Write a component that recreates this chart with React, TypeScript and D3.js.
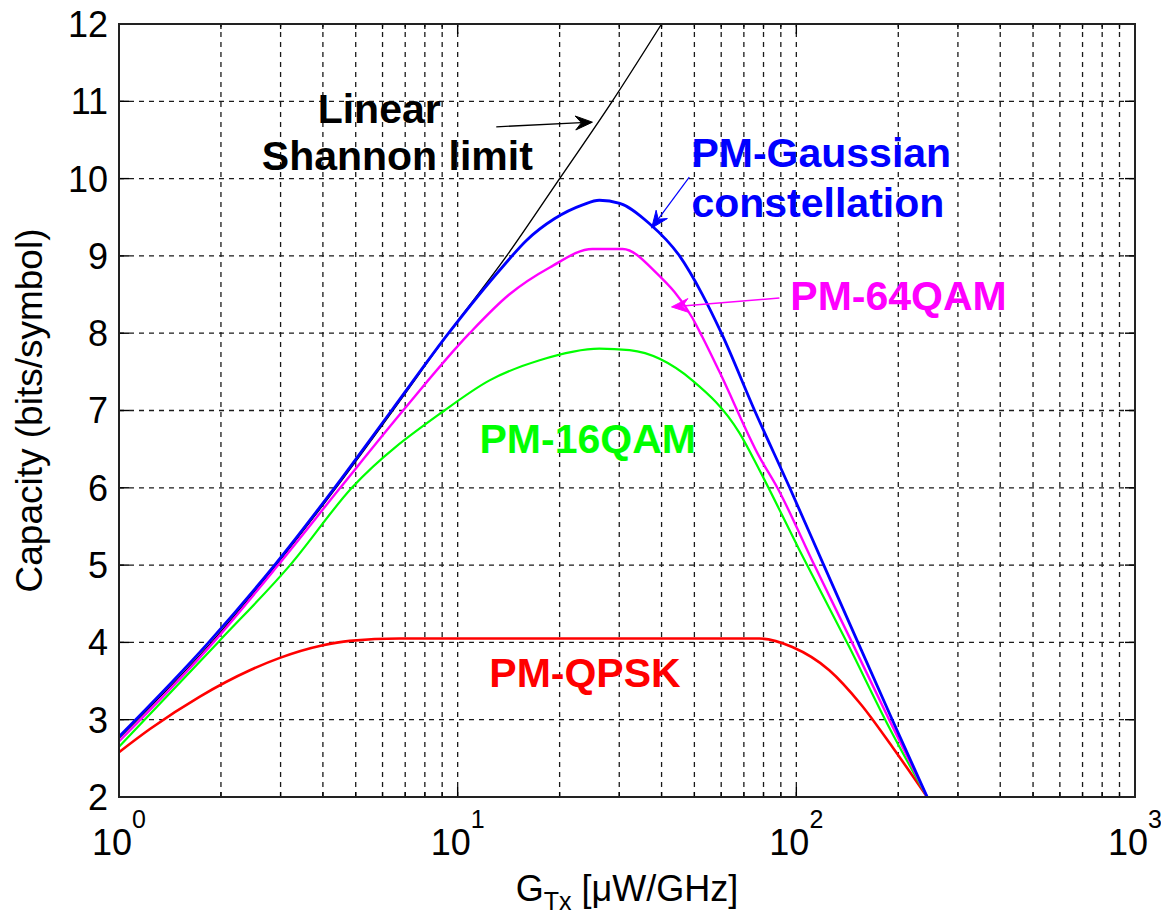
import React from "react";
import * as d3 from "d3";

// ---- data (G in uW/GHz, capacity in bits/symbol) ----
const shannonG = [1, 1.875, 2.91, 4.375, 6.44, 9.4, 13.95, 20.0, 28.6, 40.0];
const shannonC = [2.76, 4, 5, 6, 7, 8, 9, 10, 11, 12];

const gaussG = [1, 1.84, 2.88, 4.33, 6.38, 9.4, 13.58, 15.96, 19.3, 23.4, 26.2, 30.1, 36.8, 45.2, 52.8, 60.1, 75.3, 95.6, 120.5, 152, 192, 243.4];
const gaussC = [2.78, 4.0, 5.0, 6.0, 7.0, 8.0, 8.86, 9.2, 9.48, 9.66, 9.72, 9.68, 9.42, 9.0, 8.5, 8.0, 7.0, 6.0, 5.0, 4.0, 3.0, 2.0];

const qam64G = [1, 1.9, 2.95, 4.5, 6.9, 10.85, 14.2, 18.7, 25.0, 30.7, 38.6, 49.3, 52.8, 59.3, 77.8, 87.9, 113, 146, 188, 243.4];
const qam64C = [2.72, 4.0, 5.0, 6.0, 7.0, 8.0, 8.5, 8.85, 9.09, 9.09, 8.78, 8.2, 7.95, 7.5, 6.4, 6.0, 5.0, 4.0, 3.0, 2.0];

const qam16G = [1, 1.96, 3.2, 4.87, 9.14, 12.42, 17.46, 26.2, 32.2, 49.3, 67.9, 77.8, 102, 143, 188, 243.4];
const qam16C = [2.65, 4.0, 5.0, 6.0, 7.0, 7.39, 7.65, 7.8, 7.78, 7.39, 6.71, 6.23, 5.2, 3.95, 2.9, 2.0];

const qpskG = [1, 1.234, 1.733, 2.435, 2.985, 3.97, 4.8, 6.74, 77.8, 97.3, 125.1, 155, 191.9, 243.4];
const qpskC = [2.58, 2.88, 3.3, 3.64, 3.8, 3.96, 4.02, 4.05, 4.05, 3.94, 3.64, 3.2, 2.65, 2.0];

const yTicks = [2, 3, 4, 5, 6, 7, 8, 9, 10, 11, 12];
const xDecades = [1, 10, 100, 1000];
const xExponents = ["0", "1", "2", "3"];

const FONT = "'Liberation Sans', Arial, Helvetica, sans-serif";
const W = 1161;
const H = 920;

const x = d3.scaleLog().domain([1, 1000]).range([119, 1135]);
const y = d3.scaleLinear().domain([2, 12]).range([797, 24]);

const zip = (g: number[], c: number[]) => g.map((v, i) => [v, c[i]] as [number, number]);

const line = d3
  .line<[number, number]>()
  .x((d) => x(d[0]))
  .y((d) => y(d[1]))
  .curve(d3.curveMonotoneX);

const series = [
  { name: "shannon", pts: zip(shannonG, shannonC), color: "#000000", w: 1.4 },
  { name: "qpsk", pts: zip(qpskG, qpskC), color: "#ff0000", w: 2.6 },
  { name: "16qam", pts: zip(qam16G, qam16C), color: "#00ff00", w: 2.2 },
  { name: "64qam", pts: zip(qam64G, qam64C), color: "#ff00ff", w: 2.4 },
  { name: "gauss", pts: zip(gaussG, gaussC), color: "#0000ff", w: 2.8 },
];

// arrow: from [G, C] to [G, C]
const Arrow = ({ from, to, color, w = 1.3 }: any) => {
  const x1 = x(from[0]), y1 = y(from[1]);
  const x2 = x(to[0]), y2 = y(to[1]);
  const ang = Math.atan2(y2 - y1, x2 - x1);
  const L = 17, hw = 7, notch = 11;
  const p = (d: number, s: number) => [
    x2 - d * Math.cos(ang) - s * Math.sin(ang),
    y2 - d * Math.sin(ang) + s * Math.cos(ang),
  ];
  const head = [[x2, y2], p(L, hw), p(notch, 0), p(L, -hw)];
  const [bx, by] = p(notch, 0);
  return (
    <g>
      <line x1={x1} y1={y1} x2={bx} y2={by} stroke={color} strokeWidth={w} />
      <polygon points={head.map((q) => q.join(",")).join(" ")} fill={color} stroke={color} strokeWidth={1} />
    </g>
  );
};

export default function App() {
  const minorX: number[] = [];
  for (let d = 1; d < 1000; d *= 10) for (let k = 2; k <= 9; k++) minorX.push(d * k);
  const x0 = x.range()[0], x1 = x.range()[1];
  const y0 = y.range()[0], y1 = y.range()[1];
  const grid = { stroke: "#1a1a1a", strokeWidth: 1.3, strokeDasharray: "5,5" };

  return (
    <svg width={W} height={H} style={{ position: "absolute", left: 0, top: 0, background: "#fff" }} fontFamily={FONT}>
      {/* grid */}
      {yTicks.slice(1, -1).map((t) => (
        <line key={"gy" + t} x1={x0} x2={x1} y1={y(t)} y2={y(t)} {...grid} />
      ))}
      {[...minorX, 10, 100].map((v) => (
        <line key={"gx" + v} x1={x(v)} x2={x(v)} y1={y0} y2={y1} {...grid} />
      ))}

      {/* ticks, inward on all sides */}
      {xDecades.map((v) => (
        <g key={"tx" + v}>
          <line x1={x(v)} x2={x(v)} y1={y0} y2={y0 - 10} stroke="#000" strokeWidth={1.4} />
          <line x1={x(v)} x2={x(v)} y1={y1} y2={y1 + 10} stroke="#000" strokeWidth={1.4} />
        </g>
      ))}
      {minorX.map((v) => (
        <g key={"mx" + v}>
          <line x1={x(v)} x2={x(v)} y1={y0} y2={y0 - 5} stroke="#000" strokeWidth={1.3} />
          <line x1={x(v)} x2={x(v)} y1={y1} y2={y1 + 5} stroke="#000" strokeWidth={1.3} />
        </g>
      ))}
      {yTicks.map((t) => (
        <g key={"ty" + t}>
          <line x1={x0} x2={x0 + 10} y1={y(t)} y2={y(t)} stroke="#000" strokeWidth={1.4} />
          <line x1={x1} x2={x1 - 10} y1={y(t)} y2={y(t)} stroke="#000" strokeWidth={1.4} />
        </g>
      ))}

      {/* curves */}
      {series.map((s) => (
        <path key={s.name} d={line(s.pts) || ""} fill="none" stroke={s.color} strokeWidth={s.w} strokeLinejoin="round" />
      ))}

      {/* axes box */}
      <rect x={x0} y={y1} width={x1 - x0} height={y0 - y1} fill="none" stroke="#222" strokeWidth={2} />

      {/* tick labels */}
      {yTicks.map((t) => (
        <text key={"ly" + t} x={108} y={y(t)} dy="0.36em" textAnchor="end" fontSize={36} fill="#000">
          {t}
        </text>
      ))}
      {xDecades.map((v, i) => (
        <text key={"lx" + v} x={x(v)} y={855} textAnchor="middle" fontSize={36} fill="#000">
          10
          <tspan dy={-27} fontSize={25}>
            {xExponents[i]}
          </tspan>
        </text>
      ))}

      {/* axis labels */}
      <text x={627} y={901} textAnchor="middle" fontSize={36} fill="#000">
        G
        <tspan dy={9} fontSize={25}>
          Tx
        </tspan>
        <tspan dy={-9}> [μW/GHz]</tspan>
      </text>
      <text transform={`translate(42, ${(y0 + y1) / 2}) rotate(-90)`} textAnchor="middle" fontSize={37} fill="#000">
        Capacity (bits/symbol)
      </text>

      {/* annotations */}
      <g fontWeight="bold" fontSize={41}>
        <text x={x(3.86)} y={y(10.72)} fill="#000">Linear</text>
        <text x={x(2.64)} y={y(10.11)} fill="#000">Shannon limit</text>
        <text x={x(49.0)} y={y(10.15)} fill="#0000ff">PM-Gaussian</text>
        <text x={x(49.0)} y={y(9.5)} fill="#0000ff">constellation</text>
        <text x={x(96.0)} y={y(8.3)} fill="#ff00ff">PM-64QAM</text>
        <text x={x(11.6)} y={y(6.45)} fill="#00ff00">PM-16QAM</text>
        <text x={x(12.4)} y={y(3.42)} fill="#ff0000">PM-QPSK</text>
      </g>
      <Arrow from={[13.0, 10.67]} to={[25.0, 10.73]} color="#000" />
      <Arrow from={[48.3, 10.02]} to={[37.4, 9.36]} color="#0000ff" w={1.2} />
      <Arrow from={[89.1, 8.455]} to={[42.8, 8.34]} color="#ff00ff" w={1.4} />
    </svg>
  );
}
